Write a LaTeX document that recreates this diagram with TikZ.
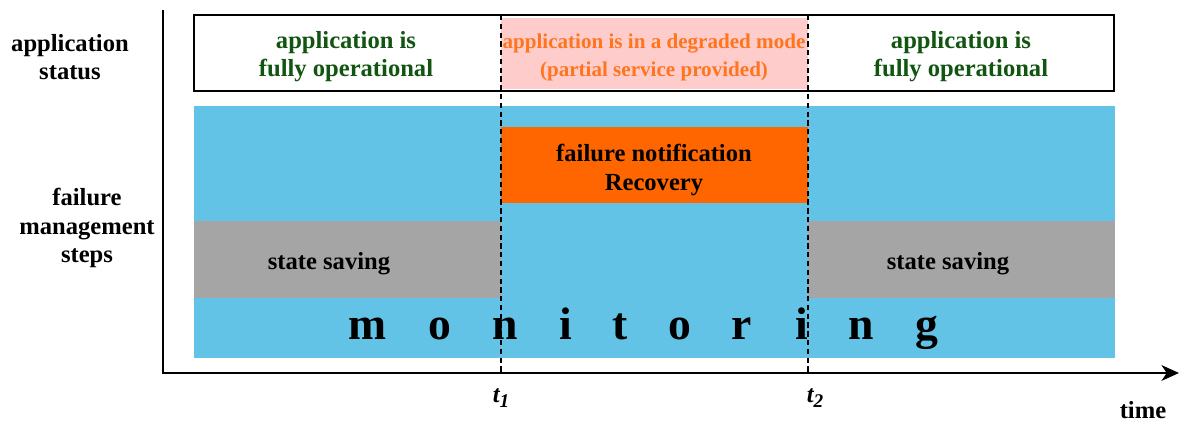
\documentclass[tikz,border=0pt]{standalone}
\usepackage{fontspec}
\setmainfont{Liberation Serif}
\usetikzlibrary{arrows.meta}
\definecolor{bandblue}{RGB}{99,195,231}
\definecolor{bandgray}{RGB}{165,165,165}
\definecolor{failorange}{RGB}{255,102,0}
\definecolor{degpink}{RGB}{255,204,204}
\definecolor{degtext}{RGB}{255,117,30}
\definecolor{okgreen}{RGB}{17,85,17}
\newcommand{\tsub}[1]{\raisebox{-0.4ex}{\fontsize{11}{11}\selectfont #1}}
\tikzset{lbl/.style={font=\fontsize{14}{16}\selectfont\bfseries,align=center,inner sep=0pt},
  degr/.style={lbl,font=\fontsize{12}{16}\selectfont\bfseries,text=degtext},
  monl/.style={font=\fontsize{26}{30}\selectfont\bfseries,inner sep=0pt,anchor=base},
  tlbl/.style={lbl,font=\fontsize{14}{16}\selectfont\bfseries\itshape},
  tline/.style={line width=0.8pt,dash pattern=on 3pt off 2pt},
  axis/.style={line width=0.9pt}}

\begin{document}
\begin{tikzpicture}[x=0.02cm,y=-0.02cm]
\useasboundingbox (0,0) rectangle (1181,423);
% failure management bands
\fill[bandblue] (194,106) rectangle (1115,358);
\fill[bandgray] (194,221) rectangle (501,298);
\fill[bandgray] (808,221) rectangle (1115,298);
\fill[failorange] (501,127) rectangle (808,203);
% application status
\fill[degpink] (501,18) rectangle (808,89);
\draw[axis] (194,15) rectangle (1114,91);

\node[lbl] (status) at (70,57) {application\\status};
\node[lbl] (steps) at (87,228) {failure\\management\\steps};

\node[lbl,text=okgreen] (okleft) at (346,57) {application is\\fully operational};
\node[degr] (degraded) at (654,57) {application is in a degraded mode\\(partial service provided)};
\node[lbl,text=okgreen] (okright) at (961,57) {application is\\fully operational};

\node[lbl] (notif) at (654,170) {failure notification\\Recovery};
\node[lbl] (saveleft) at (329,264) {state saving};
\node[lbl] (saveright) at (948,264) {state saving};

\foreach \ch/\xx in {m/368,o/440,n/505,i/566,t/620,o/680,r/742,i/802,n/861,g/927}
  \node[monl] (mon-\xx) at (\xx,339) {\ch};

% axes
\coordinate (ytop) at (163,10);
\coordinate (orig) at (163,373);
\coordinate (xend) at (1179,373);
\draw[axis,-{Stealth[length=10pt,width=9pt,inset=3pt]}] (ytop) -- (orig) -- (xend);

% instants
\coordinate (t1top) at (501,15);
\coordinate (t1bot) at (501,373);
\coordinate (t2top) at (808,15);
\coordinate (t2bot) at (808,373);
\draw[tline] (t1top) -- (t1bot);
\draw[tline] (t2top) -- (t2bot);

\node[tlbl] (t1) at (501,398) {t\tsub{1}};
\node[tlbl] (t2) at (815,398) {t\tsub{2}};
\node[lbl] (time) at (1143,410) {time};
\end{tikzpicture}
\end{document}
